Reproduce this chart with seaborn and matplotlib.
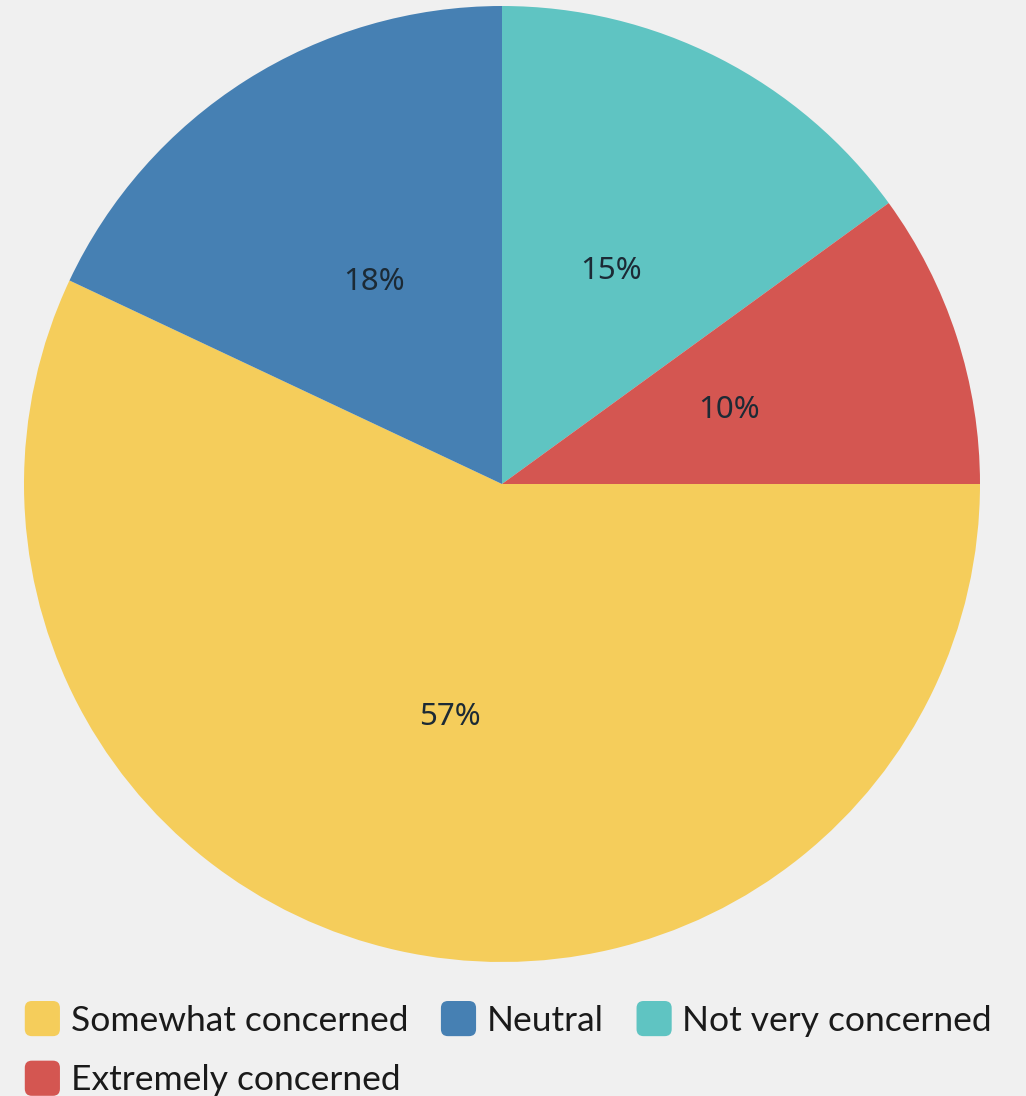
import matplotlib
matplotlib.use("Agg")
import matplotlib.pyplot as plt
from matplotlib.patches import FancyBboxPatch
from matplotlib.legend_handler import HandlerPatch
import seaborn as sns

# Survey shares, listed clockwise from 12 o'clock
categories = ["Not very concerned", "Extremely concerned", "Somewhat concerned", "Neutral"]
shares = [15, 10, 57, 18]
colors = ["#5FC4C2", "#D45651", "#F5CD5B", "#4680B3"]

# Legend order (row by row)
legend_order = ["Somewhat concerned", "Neutral", "Not very concerned", "Extremely concerned"]

sns.set_theme(style="white")
bg = "#F0F0F0"
plt.rcParams["font.family"] = ["Lato", "DejaVu Sans"]

W, H = 1026, 1096
fig = plt.figure(figsize=(W / 100, H / 100), dpi=100, facecolor=bg)

cx, cy, r = 502, 484, 478
ax = fig.add_axes([(cx - r) / W, (H - cy - r) / H, 2 * r / W, 2 * r / H])
ax.set_facecolor(bg)

wedges, texts, autotexts = ax.pie(
    shares,
    colors=colors,
    startangle=90,
    counterclock=False,
    autopct="%d%%",
    pctdistance=0.5,
    radius=1.0,
    wedgeprops=dict(linewidth=0),
)
for t in autotexts:
    t.set_fontfamily(["Noto Sans", "DejaVu Sans"])
    t.set_fontstyle("normal")
    t.set_fontsize(22.5)
    t.set_color("#1C2A35")
ax.set_xlim(-1, 1)
ax.set_ylim(-1, 1)
ax.set_aspect("equal")
ax.axis("off")


class RoundedHandler(HandlerPatch):
    def create_artists(self, legend, orig_handle, xdescent, ydescent,
                       width, height, fontsize, trans):
        s = min(width, height)
        p = FancyBboxPatch((-xdescent + (width - s) / 2, -ydescent + (height - s) / 2), s, s,
                           boxstyle="round,pad=0,rounding_size=%f" % (s * 0.2),
                           facecolor=orig_handle.get_facecolor(), edgecolor="none",
                           transform=trans)
        return [p]


color_of = dict(zip(categories, colors))
# ncol=3 fills column-wise, so arrange handles to read row by row
col_order = [legend_order[0], legend_order[3], legend_order[1], legend_order[2]]
handles = [plt.Rectangle((0, 0), 1, 1, facecolor=color_of[c]) for c in col_order]
fs = 25.5
fig.legend(
    handles, col_order,
    handler_map={plt.Rectangle: RoundedHandler()},
    loc="upper left", bbox_to_anchor=(22 / W, 1 - 1001 / H),
    ncol=3, frameon=False, prop={"family": ["Lato", "DejaVu Sans"], "size": fs},
    handlelength=1.15, handleheight=1.15, handletextpad=0.22,
    columnspacing=0.85, labelspacing=0.68, borderaxespad=0, borderpad=0,
    labelcolor="#1A1A1A",
)

fig.savefig("out.png", dpi=100, facecolor=bg)
